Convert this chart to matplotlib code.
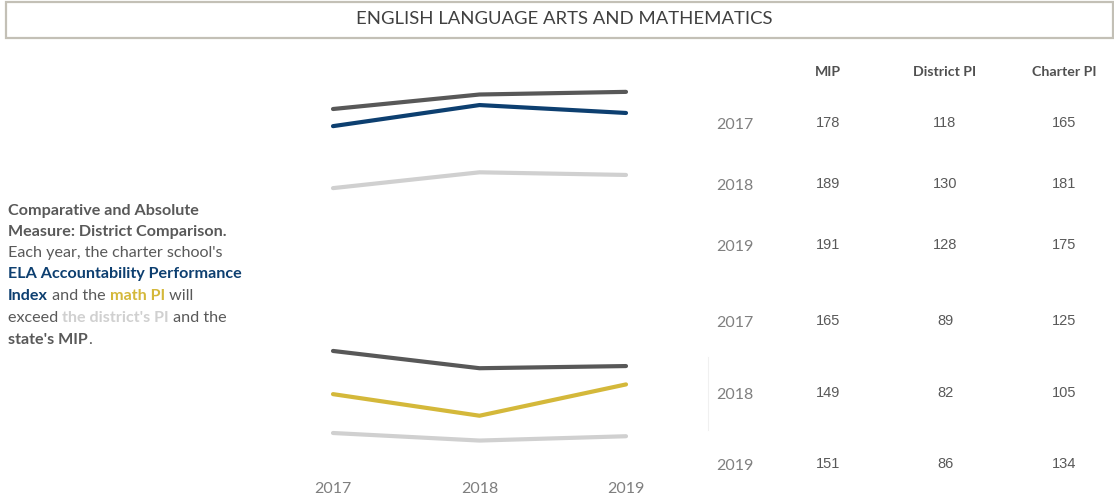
import matplotlib.pyplot as plt
from matplotlib.patches import Rectangle

# Data
years = [2017, 2018, 2019]
ela_mip = [178, 189, 191]
ela_district = [118, 130, 128]
ela_charter = [165, 181, 175]
math_mip = [165, 149, 151]
math_district = [89, 82, 86]
math_charter = [125, 105, 134]
columns = ['MIP', 'District PI', 'Charter PI']

dark = '#585858'
light = '#d0d0d0'
blue = '#0d3f70'
gold = '#d4b83a'
txt = '#595959'
font = 'Lato'

W, H = 1114, 501
fig = plt.figure(figsize=(W / 100, H / 100), dpi=100)


def fx(x):
    return x / W


def fy(y):
    return 1 - y / H


# title box
fig.patches.append(Rectangle((fx(6), fy(38)), fx(1114 - 7), 36 / H, transform=fig.transFigure,
                             fill=False, edgecolor='#c3c0b6', linewidth=1.6))
fig.text(fx(564), fy(19), 'ENGLISH LANGUAGE ARTS AND MATHEMATICS', ha='center', va='center',
         fontsize=13.3, color='#404040', family=font)

# line charts
ax1 = fig.add_axes([fx(333), fy(200), fx(626 - 333), 120 / H])
ax1.plot(years, ela_mip, color=dark, lw=3, solid_capstyle='round', clip_on=False)
ax1.plot(years, ela_charter, color=blue, lw=3, solid_capstyle='round', clip_on=False)
ax1.plot(years, ela_district, color=light, lw=3, solid_capstyle='round', clip_on=False)
ax1.set_ylim(109, 200)
ax1.set_xlim(2017, 2019)
ax1.axis('off')

ax2 = fig.add_axes([fx(333), fy(475), fx(626 - 333), 145 / H])
ax2.plot(years, math_mip, color=dark, lw=3, solid_capstyle='round', clip_on=False)
ax2.plot(years, math_charter, color=gold, lw=3, solid_capstyle='round', clip_on=False)
ax2.plot(years, math_district, color=light, lw=3, solid_capstyle='round', clip_on=False)
ax2.set_ylim(50.1, 184.4)
ax2.set_xlim(2017, 2019)
ax2.set_xticks(years)
ax2.set_xticklabels([str(y) for y in years], fontsize=11.5, color='#7f7f7f', family=font)
ax2.tick_params(length=0, pad=5)
ax2.set_yticks([])
for s in ax2.spines.values():
    s.set_visible(False)

# table
col_x = [828, 945, 1064]
for cx, name in zip(col_x, columns):
    fig.text(fx(cx), fy(72), name, ha='center', va='center', fontsize=10.2,
             fontweight='bold', color='#505050', family=font)

ela_rows_y = [123, 184, 245]
math_rows_y = [321, 393, 464]
for rows_y, data in [(ela_rows_y, (ela_mip, ela_district, ela_charter)),
                     (math_rows_y, (math_mip, math_district, math_charter))]:
    for i, y in enumerate(years):
        fig.text(fx(735), fy(rows_y[i] + 2), str(y), ha='center', va='center',
                 fontsize=11.5, color='#808080', family=font)
        for cx, vals in zip(col_x, data):
            fig.text(fx(cx), fy(rows_y[i]), str(vals[i]), ha='center', va='center',
                     fontsize=10.5, color=txt, family='Liberation Sans')

# faint divider
fig.add_artist(plt.Line2D([fx(708), fx(708)], [fy(357), fy(430)], color='#f0f0f0', lw=0.8))

# left description text
lines = [
    [('Comparative and Absolute', 'bold', txt)],
    [('Measure: District Comparison.', 'bold', txt)],
    [("Each year, the charter school's", 'normal', txt)],
    [('ELA Accountability Performance', 'bold', blue)],
    [('Index', 'bold', blue), (' and the ', 'normal', txt), ('math PI', 'bold', gold),
     (' will', 'normal', txt)],
    [('exceed ', 'normal', txt), ("the district's PI", 'bold', light), (' and the', 'normal', txt)],
    [("state's MIP", 'bold', txt), ('.', 'normal', txt)],
]
line_y = [211, 232, 253, 274, 296, 318, 340]
for parts, y in zip(lines, line_y):
    prev = None
    for s, w, c in parts:
        if prev is None:
            prev = fig.text(fx(8), fy(y), s, ha='left', va='center', fontsize=11.6,
                            fontweight=w, color=c, family=font)
        else:
            prev = fig.add_artist(plt.Annotation(s, xy=(1, 0), xycoords=prev, ha='left', va='bottom',
                                                 fontsize=11.6, fontweight=w, color=c, family=font))

fig.savefig('out.png', dpi=100)
